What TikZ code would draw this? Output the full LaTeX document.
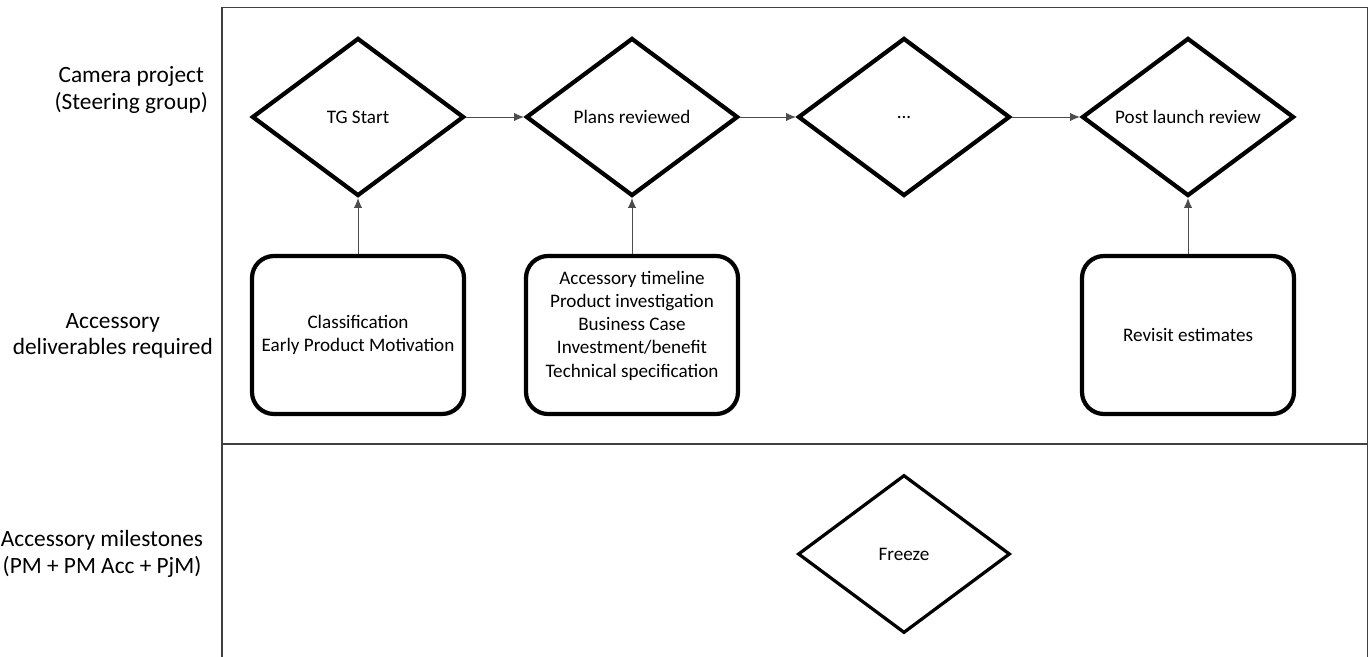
\documentclass[tikz,border=0pt]{standalone}
\usepackage{fontspec}
\setmainfont{Carlito}
\usetikzlibrary{shapes.geometric,arrows.meta}

\begin{document}
\begin{tikzpicture}[
    gate/.style={diamond, draw, line width=3pt, aspect=1.33,
                 minimum width=5.3cm, minimum height=3.95cm, inner sep=0pt,
                 font=\fontsize{13.6}{16.5}\selectfont},
    deliv/.style={draw, rounded corners=0.55cm, line width=3pt,
                  minimum width=5.3cm, minimum height=3.95cm,
                  align=center, font=\fontsize{13.6}{16.5}\selectfont},
    lanelabel/.style={align=center, font=\fontsize{16.6}{18.8}\selectfont},
    link/.style={draw=black!70, line width=0.6pt, -{Latex[length=7pt,width=6pt]}}
  ]
    % --- 定义坐标和参数 ---
    \def\laneL{5.55}     % 泳道左边界
    \def\laneR{34.18}    % 泳道右边界
    \def\laneT{-0.18}    % 泳道上边界
    \def\laneM{-11.1}    % 泳道分隔线
    \def\picB{-16.425}   % 图片下边界
    \def\rowG{-2.925}    % 决策点所在行
    \def\rowD{-8.375}    % 交付物所在行

    \useasboundingbox (0,0) rectangle (34.225,\picB);

    % --- 绘制泳道框 ---
    \draw[black!75, line width=0.9pt] (\laneL,\picB) -- (\laneL,\laneT) -- (\laneR,\laneT) -- (\laneR,\picB);
    \draw[black!75, line width=0.9pt] (\laneL,\laneM) -- (\laneR,\laneM);

    % --- 泳道标签 ---
    \node[lanelabel] (lblcam) at (3.28,-2.25) {Camera project\\(Steering group)};
    \node[lanelabel] (lbldel) at (2.82,-8.4) {Accessory\\deliverables required};
    \node[lanelabel] (lblmil) at (2.55,-13.85) {Accessory milestones\\(PM + PM Acc + PjM)};

    % --- 决策点 (菱形) ---
    \node[gate] (tgstart) at (8.95,\rowG) {TG Start};
    \node[gate] (plans) at (15.8,\rowG) {Plans reviewed};
    \node[gate] (dots) at (22.6,\rowG) {...};
    \node[gate] (postlaunch) at (29.7,\rowG) {Post launch review};

    % --- 交付物 (圆角框) ---
    \node[deliv] (classif) at (8.95,\rowD) {Classification\\Early Product Motivation};
    \node[deliv, text depth=0.55cm] (planitems) at (15.8,\rowD) {Accessory timeline\\Product investigation\\Business Case\\Investment/benefit\\Technical specification};
    \node[deliv] (revisit) at (29.7,\rowD) {Revisit estimates};

    % --- 里程碑 ---
    \node[gate, line width=2.3pt] (freeze) at (22.6,-13.85) {Freeze};

    % --- 连接线 ---
    \draw[link] (tgstart.east) -- (plans.west);
    \draw[link] (plans.east) -- (dots.west);
    \draw[link] (dots.east) -- (postlaunch.west);
    \draw[link] (classif.north) -- (tgstart.south);
    \draw[link] (planitems.north) -- (plans.south);
    \draw[link] (revisit.north) -- (postlaunch.south);

\end{tikzpicture}
\end{document}
